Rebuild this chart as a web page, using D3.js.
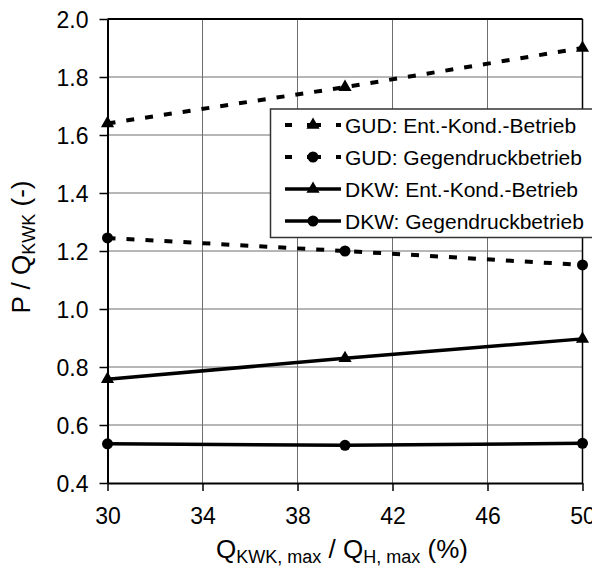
<!DOCTYPE html>
<html>
<head>
<meta charset="utf-8">
<script src="https://cdn.jsdelivr.net/npm/d3@7"></script>
<style>
  body { margin: 0; background: #fff; }
  svg { font-family: "Liberation Sans", Arial, sans-serif; }
</style>
</head>
<body>
<div id="chart"></div>
<script>
// data
const xValues = [30, 40, 50];
const gudEntKond = [1.64, 1.765, 1.90];
const gudGegendruck = [1.245, 1.20, 1.152];
const dkwEntKond = [0.758, 0.83, 0.897];
const dkwGegendruck = [0.535, 0.530, 0.537];
const xTicks = [30, 34, 38, 42, 46, 50];
const yTicks = [0.4, 0.6, 0.8, 1.0, 1.2, 1.4, 1.6, 1.8, 2.0];

const seriesList = [
    { name: "GUD: Ent.-Kond.-Betrieb", values: gudEntKond, dashed: true, marker: "triangle" },
    { name: "GUD: Gegendruckbetrieb", values: gudGegendruck, dashed: true, marker: "circle" },
    { name: "DKW: Ent.-Kond.-Betrieb", values: dkwEntKond, dashed: false, marker: "triangle" },
    { name: "DKW: Gegendruckbetrieb", values: dkwGegendruck, dashed: false, marker: "circle" }
];

const width = 592, height = 568;
const margin = { top: 19, right: 9.5, bottom: 85, left: 107.5 };

const svg = d3.select("#chart").append("svg")
    .attr("width", width)
    .attr("height", height);

const x = d3.scaleLinear().domain([30, 50]).range([margin.left, width - margin.right]);
const y = d3.scaleLinear().domain([0.4, 2.0]).range([height - margin.bottom, margin.top]);

// grid
svg.append("g")
    .selectAll("line")
    .data(xTicks.slice(1, -1))
    .enter().append("line")
    .attr("x1", d => x(d)).attr("x2", d => x(d))
    .attr("y1", y(2.0)).attr("y2", y(0.4))
    .attr("stroke", "#6e6e6e").attr("stroke-width", 1);

svg.append("g")
    .selectAll("line")
    .data(yTicks.slice(1, -1))
    .enter().append("line")
    .attr("x1", x(30)).attr("x2", x(50))
    .attr("y1", d => y(d)).attr("y2", d => y(d))
    .attr("stroke", "#6e6e6e").attr("stroke-width", 1);

// axes
const xAxis = svg.append("g")
    .attr("transform", `translate(0,${y(0.4)})`)
    .call(d3.axisBottom(x).tickValues(xTicks).tickFormat(d3.format("d")).tickSizeInner(8).tickSizeOuter(0).tickPadding(17));

const yAxis = svg.append("g")
    .attr("transform", `translate(${x(30)},0)`)
    .call(d3.axisLeft(y).tickValues(yTicks).tickFormat(d3.format(".1f")).tickSizeInner(8).tickSizeOuter(0).tickPadding(11));

[xAxis, yAxis].forEach(a => {
    a.select(".domain").attr("stroke", "#000").attr("stroke-width", 2);
    a.selectAll(".tick line").attr("stroke", "#000").attr("stroke-width", 1.5);
    a.selectAll(".tick text").attr("fill", "#000").style("font-size", "23px").style("font-family", "Liberation Sans, Arial, sans-serif");
});
xAxis.selectAll(".tick text").attr("dy", "0.71em");
yAxis.selectAll(".tick text").attr("dy", "0.36em");

// top and right frame
svg.append("line")
    .attr("x1", x(30)).attr("x2", x(50)).attr("y1", y(2.0)).attr("y2", y(2.0))
    .attr("stroke", "#000").attr("stroke-width", 2);
svg.append("line")
    .attr("x1", x(50)).attr("x2", x(50)).attr("y1", y(2.0)).attr("y2", y(0.4))
    .attr("stroke", "#000").attr("stroke-width", 1.5);

// series
const line = d3.line().x((d, i) => x(xValues[i])).y(d => y(d));
const tri = d3.symbol().type(d3.symbolTriangle).size(75);

function drawMarker(g, type, cx, cy) {
    if (type === "circle") {
        g.append("circle").attr("cx", cx).attr("cy", cy).attr("r", 5.5).attr("fill", "#000");
    } else {
        g.append("path").attr("d", tri()).attr("transform", `translate(${cx},${cy})`).attr("fill", "#000");
    }
}

seriesList.forEach(s => {
    const g = svg.append("g");
    g.append("path")
        .datum(s.values)
        .attr("d", line)
        .attr("fill", "none")
        .attr("stroke", "#000")
        .attr("stroke-width", s.dashed ? 4 : 3.5)
        .attr("stroke-dasharray", s.dashed ? "8,11" : null);
    s.values.forEach((v, i) => drawMarker(g, s.marker, x(xValues[i]), y(v)));
});

// legend
const legend = svg.append("g");
legend.append("rect")
    .attr("x", 270.5).attr("y", 109)
    .attr("width", 340).attr("height", 128.5)
    .attr("fill", "#fff").attr("stroke", "#333").attr("stroke-width", 1.5);

seriesList.forEach((s, i) => {
    const ly = 125 + i * 32;
    const row = legend.append("g");
    row.append("line")
        .attr("x1", 285).attr("x2", 341).attr("y1", ly).attr("y2", ly)
        .attr("stroke", "#000")
        .attr("stroke-width", s.dashed ? 4 : 3.5)
        .attr("stroke-dasharray", s.dashed ? "7,15,14,15,7" : null);
    drawMarker(row, s.marker, 313, ly);
    row.append("text")
        .attr("x", 345).attr("y", ly).attr("dy", "0.36em")
        .style("font-size", "21px")
        .text(s.name);
});

// axis titles
const xTitle = svg.append("text")
    .attr("x", 342).attr("y", 558)
    .attr("text-anchor", "middle")
    .style("font-size", "26px");
xTitle.append("tspan").text("Q");
xTitle.append("tspan").attr("dy", 5).style("font-size", "18px").text("KWK, max");
xTitle.append("tspan").attr("dy", -5).text(" / Q");
xTitle.append("tspan").attr("dy", 5).style("font-size", "18px").text("H, max");
xTitle.append("tspan").attr("dy", -5).text(" (%)");

const yTitle = svg.append("text")
    .attr("transform", `translate(30,${(y(2.0) + y(0.4)) / 2 - 4}) rotate(-90)`)
    .attr("text-anchor", "middle")
    .style("font-size", "26px");
yTitle.append("tspan").text("P / Q");
yTitle.append("tspan").attr("dy", 5).style("font-size", "18px").text("KWK");
yTitle.append("tspan").attr("dy", -5).text(" (-)");
</script>
</body>
</html>
